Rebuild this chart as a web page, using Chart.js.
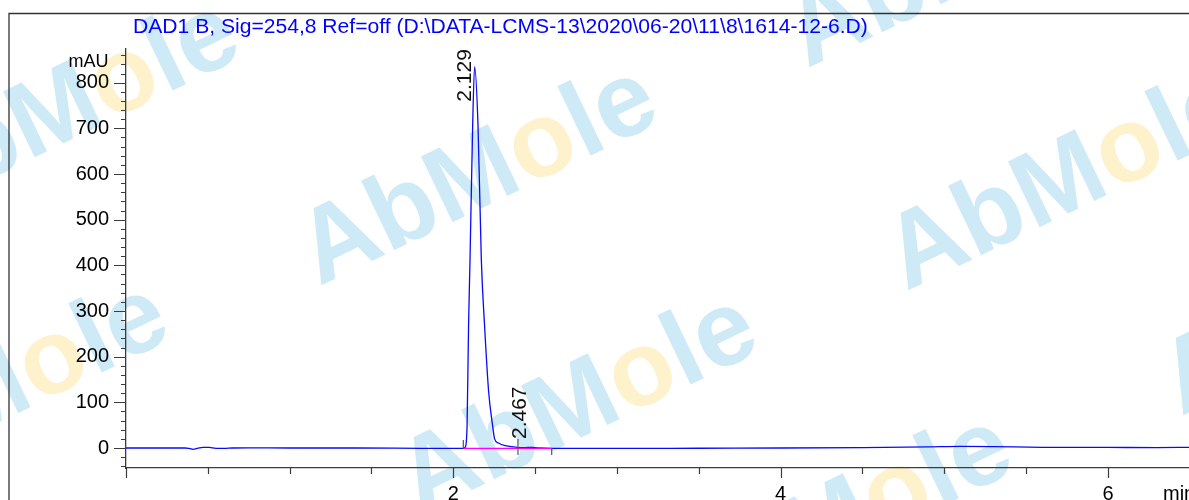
<!DOCTYPE html>
<html>
<head>
<meta charset="utf-8">
<script src="https://cdn.jsdelivr.net/npm/chart.js@4.4.1/dist/chart.umd.min.js"></script>
<style>
  html, body { margin: 0; padding: 0; background: #fff; overflow: hidden; }
  #wrap { width: 1189px; height: 500px; }
</style>
</head>
<body>
<div id="wrap"><canvas id="chrom" width="1189" height="500"></canvas></div>
<script>
  const titleText = "DAD1 B, Sig=254,8 Ref=off (D:\\DATA-LCMS-13\\2020\\06-20\\11\\8\\1614-12-6.D)";
  const yUnit = "mAU";
  const xUnit = "min";

  // trace (minutes, mAU)
  const timeMin = [
    0.00, 0.20, 0.36, 0.39, 0.41, 0.44, 0.47, 0.51, 0.55, 0.60, 0.65, 0.75, 1.00, 1.40, 1.80, 2.00,
    2.060, 2.073, 2.084, 2.093, 2.102, 2.118, 2.130, 2.151, 2.171, 2.191, 2.216, 2.240, 2.252,
    2.275, 2.317, 2.390, 2.440, 2.480, 2.520, 2.600,
    3.00, 3.50, 4.00, 4.50, 4.90, 5.10, 5.30, 5.60, 6.00, 6.30, 6.495
  ];
  const signalMAU = [
    0, 0, 0, -1.5, -3, -0.5, 1.5, 1.2, -0.8, -0.8, 0, 0.2, 0, 0, -0.8, -1,
    -1, 2, 49, 267, 413, 704, 835, 704, 413, 267, 122, 49, 20,
    11, 5, 1.5, 1, 1.5, 0, -1,
    -1, -0.5, 0, 1, 2.5, 3.5, 3, 1.5, 1.2, 1, 1.5
  ];

  // integration baseline
  const baseTimes = [2.061, 2.601];
  const baseValues = [-1, -1];

  // peak annotations
  const peakLabels = ["2.129", "2.467"];
  const peakTimes = [2.13, 2.395];
  const peakValues = [835, 0];

  const xMin = 0, xMax = 6.495, xStep = 0.5, xLabelEvery = 2;
  const yMin = -43.8, yMax = 873.7, yStep = 20, yLabelEvery = 100;

  const FONT = '"Liberation Sans", Arial, sans-serif';
  const AXIS = '#3c3c3c';

  function isMultiple(v, step) {
    const r = v / step;
    return Math.abs(r - Math.round(r)) < 1e-6;
  }

  function drawWatermarks(ctx) {
    const spots = [[125, 83], [543, 148], [1130, 153], [1031, -70], [54, 365], [643, 377], [898, 497], [1405, 278]];
    const size = 106;
    ctx.font = "bold " + size + "px " + FONT;
    ctx.textBaseline = "alphabetic";
    ctx.textAlign = "left";
    const wHead = ctx.measureText("AbM").width;
    const wO = ctx.measureText("o").width;
    spots.forEach(([cx, cy]) => {
      ctx.save();
      ctx.translate(cx, cy);
      ctx.rotate(-25.7 * Math.PI / 180);
      const by = size * 0.26;
      ctx.fillStyle = "rgb(206,234,246)";
      ctx.fillText("AbM", -wO / 2 - wHead, by);
      ctx.fillText("le", wO / 2, by);
      ctx.fillStyle = "rgb(254,242,204)";
      ctx.fillText("o", -wO / 2, by);
      ctx.restore();
    });
  }

  const chromDecor = {
    id: "chromDecor",
    beforeDraw(chart) {
      const ctx = chart.ctx;
      ctx.save();
      ctx.fillStyle = "#fff";
      ctx.fillRect(0, 0, chart.width, chart.height);
      drawWatermarks(ctx);
      ctx.restore();
    },
    afterDraw(chart) {
      const ctx = chart.ctx;
      const xs = chart.scales.x, ys = chart.scales.y;
      ctx.save();

      // outer frame
      ctx.strokeStyle = "#333";
      ctx.lineWidth = 1.3;
      ctx.beginPath();
      ctx.moveTo(9, chart.height);
      ctx.lineTo(9, 13.5);
      ctx.lineTo(chart.width, 13.5);
      ctx.stroke();

      // axis ticks, long on labelled values
      ctx.strokeStyle = AXIS;
      ctx.lineWidth = 1.2;
      ctx.beginPath();
      ys.ticks.forEach(t => {
        const y = Math.round(ys.getPixelForValue(t.value)) + 0.5;
        const len = isMultiple(t.value, yLabelEvery) ? 12 : 5;
        ctx.moveTo(ys.right - len, y);
        ctx.lineTo(ys.right, y);
      });
      xs.ticks.forEach(t => {
        const x = Math.round(xs.getPixelForValue(t.value)) + 0.5;
        const len = isMultiple(t.value, xLabelEvery) ? 10 : 6;
        ctx.moveTo(x, xs.top);
        ctx.lineTo(x, xs.top + len);
      });
      ctx.stroke();

      // integration start / end marks
      const y0 = ys.getPixelForValue(0);
      ctx.strokeStyle = "#555";
      ctx.lineWidth = 1.2;
      ctx.beginPath();
      let px = xs.getPixelForValue(baseTimes[0]);
      ctx.moveTo(px, y0 - 8); ctx.lineTo(px, y0);
      px = xs.getPixelForValue(baseTimes[1]);
      ctx.moveTo(px, y0); ctx.lineTo(px, y0 + 7);
      px = xs.getPixelForValue(peakTimes[1]);
      ctx.moveTo(px, y0 - 9); ctx.lineTo(px, y0 + 7);
      ctx.stroke();

      // peak labels, rotated
      ctx.fillStyle = "#111";
      ctx.font = "21px " + FONT;
      ctx.textAlign = "left";
      ctx.textBaseline = "alphabetic";
      const offs = [[-3.6, 35], [7.7, -9]];
      peakLabels.forEach((lab, i) => {
        const ax = xs.getPixelForValue(peakTimes[i]) + offs[i][0];
        const ay = ys.getPixelForValue(peakValues[i]) + offs[i][1];
        ctx.save();
        ctx.translate(ax, ay);
        ctx.rotate(-Math.PI / 2);
        ctx.fillText(lab, 0, 0);
        ctx.restore();
      });

      // units
      ctx.fillStyle = "#000";
      ctx.font = "18px " + FONT;
      ctx.textAlign = "right";
      ctx.fillText(yUnit, 108.5, 66.5);
      ctx.font = "20px " + FONT;
      ctx.textAlign = "left";
      ctx.fillText(xUnit, 1163, 499.5);

      // title
      ctx.fillStyle = "rgb(0,0,255)";
      ctx.font = "21.1px " + FONT;
      ctx.textAlign = "left";
      ctx.fillText(titleText, 133, 33.3);

      ctx.restore();
    }
  };

  const trace = timeMin.map((t, i) => ({ x: t, y: signalMAU[i] }));
  const baseline = baseTimes.map((t, i) => ({ x: t, y: baseValues[i] }));

  new Chart(document.getElementById("chrom").getContext("2d"), {
    type: "line",
    data: {
      datasets: [
        {
          data: trace,
          borderColor: "rgb(10,10,250)",
          borderWidth: 1.3,
          pointRadius: 0,
          cubicInterpolationMode: "monotone",
          order: 1
        },
        {
          data: baseline,
          borderColor: "rgb(255,0,255)",
          borderWidth: 1.3,
          pointRadius: 0,
          order: 0
        }
      ]
    },
    options: {
      responsive: false,
      animation: false,
      layout: { padding: { top: 49, left: 0, right: 0, bottom: 0 } },
      plugins: { legend: { display: false }, tooltip: { enabled: false } },
      scales: {
        x: {
          type: "linear",
          min: xMin,
          max: xMax,
          border: { color: AXIS, width: 1.3 },
          grid: { display: true, drawOnChartArea: false, tickLength: 10, tickColor: "rgba(0,0,0,0)" },
          ticks: {
            stepSize: xStep,
            includeBounds: false,
            autoSkip: false,
            maxRotation: 0,
            padding: 4,
            color: "#000",
            font: { family: FONT, size: 20 },
            callback: v => isMultiple(v, xLabelEvery) && v > 0 ? String(Math.round(v)) : ""
          },
          afterFit: s => { s.height = 32; }
        },
        y: {
          type: "linear",
          min: yMin,
          max: yMax,
          border: { color: AXIS, width: 1.3 },
          grid: { display: true, drawOnChartArea: false, tickLength: 12, tickColor: "rgba(0,0,0,0)" },
          ticks: {
            stepSize: yStep,
            includeBounds: false,
            autoSkip: false,
            padding: 5,
            color: "#000",
            font: { family: FONT, size: 20 },
            callback: v => isMultiple(v, yLabelEvery) ? String(Math.round(v)) : ""
          },
          afterFit: s => { s.width = 126; }
        }
      }
    },
    plugins: [chromDecor]
  });
</script>
</body>
</html>
